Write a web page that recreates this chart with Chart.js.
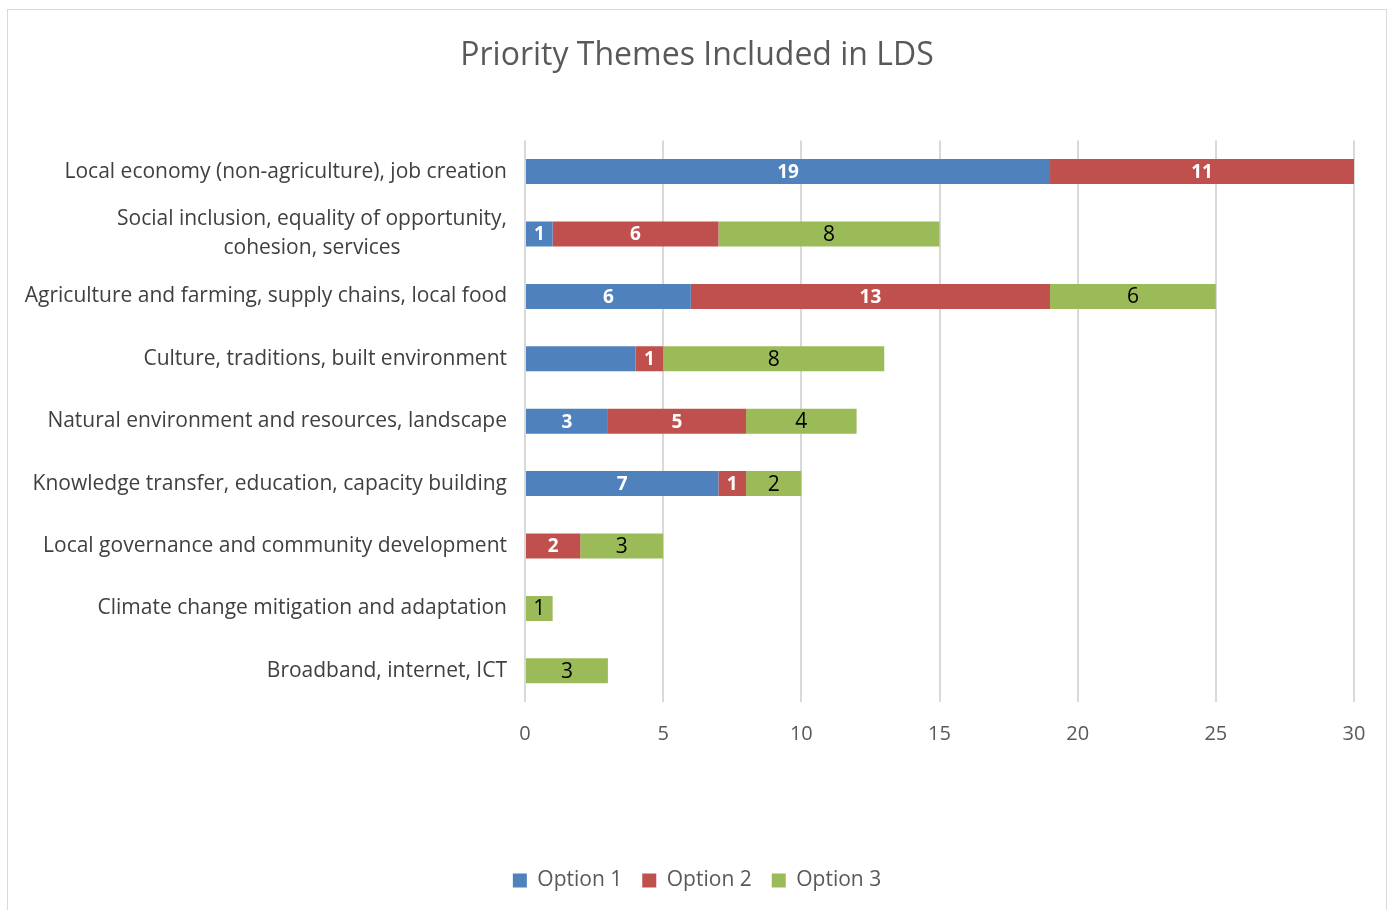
<!DOCTYPE html>
<html>
<head>
<meta charset="utf-8">
<title>Priority Themes Included in LDS</title>
<script src="https://cdn.jsdelivr.net/npm/chart.js@4"></script>
<style>
    html, body { margin: 0; padding: 0; background: #fff; overflow: hidden; }
    #frame { position: absolute; left: 7px; top: 9px; width: 1378px; height: 930px; border: 1px solid #d9d9d9; }
    #box { position: relative; width: 1378px; height: 891px; }
</style>
</head>
<body>
<div id="frame"><div id="box"><canvas id="chart"></canvas></div></div>
<script>
/* ── Data ───────────────────────────────────────────────────── */

const categories = [
    ['Local economy (non-agriculture), job creation'],
    ['Social inclusion, equality of opportunity,', 'cohesion, services'],
    ['Agriculture and farming, supply chains, local food'],
    ['Culture, traditions, built environment'],
    ['Natural environment and resources, landscape'],
    ['Knowledge transfer, education, capacity building'],
    ['Local governance and community development'],
    ['Climate change mitigation and adaptation'],
    ['Broadband, internet, ICT'],
];
const seriesNames = ['Option 1', 'Option 2', 'Option 3'];
const option1 = [19, 1, 6, 4, 3, 7, 0, 0, 0];
const option2 = [11, 6, 13, 1, 5, 1, 2, 0, 0];
const option3 = [0, 8, 6, 8, 4, 2, 3, 1, 3];
const xTicks = [0, 5, 10, 15, 20, 25, 30];
// segments whose value is not printed in the original (dataset index -> bar indexes)
const hiddenLabels = { 0: [3] };

const FONT = '"Open Sans", "Noto Sans", sans-serif';

/* ── Plugins ────────────────────────────────────────────────── */

// category labels: block right-aligned to the axis, lines centred within it
const categoryLabels = {
    id: 'categoryLabels',
    afterDraw(chart) {
        const ctx = chart.ctx;
        const y = chart.scales.y;
        const right = chart.chartArea.left - 18;
        ctx.save();
        ctx.font = '21px ' + FONT;
        ctx.fillStyle = '#404040';
        ctx.textAlign = 'center';
        ctx.textBaseline = 'middle';
        categories.forEach((lines, i) => {
            const cy = y.getPixelForTick(i);
            const w = Math.max(...lines.map(l => ctx.measureText(l).width));
            lines.forEach((l, j) => {
                ctx.fillText(l, right - w / 2, cy + (j - (lines.length - 1) / 2) * 29);
            });
        });
        ctx.restore();
    }
};

const valueLabels = {
    id: 'valueLabels',
    afterDatasetsDraw(chart) {
        const ctx = chart.ctx;
        ctx.save();
        ctx.textAlign = 'center';
        ctx.textBaseline = 'middle';
        chart.data.datasets.forEach((ds, di) => {
            const meta = chart.getDatasetMeta(di);
            meta.data.forEach((bar, i) => {
                const v = ds.data[i];
                if (!v || (hiddenLabels[di] || []).includes(i)) return;
                ctx.font = ds.valueFont;
                ctx.fillStyle = ds.valueColor;
                ctx.fillText(String(v), (bar.x + bar.base) / 2, bar.y + 1);
            });
        });
        ctx.restore();
    }
};

/* ── Chart ──────────────────────────────────────────────────── */

new Chart(document.getElementById('chart'), {
    type: 'bar',
    data: {
        labels: categories.map(c => c.join(' ')),
        datasets: [
            { label: seriesNames[0], data: option1, backgroundColor: '#4f81bd',
              valueFont: 'bold 19px ' + FONT, valueColor: '#fff' },
            { label: seriesNames[1], data: option2, backgroundColor: '#c0504d',
              valueFont: 'bold 19px ' + FONT, valueColor: '#fff' },
            { label: seriesNames[2], data: option3, backgroundColor: '#9bbb59',
              valueFont: '21px ' + FONT, valueColor: '#000' },
        ]
    },
    options: {
        indexAxis: 'y',
        responsive: true,
        maintainAspectRatio: false,
        animation: false,
        datasets: { bar: { categoryPercentage: 1, barPercentage: 0.4 } },
        layout: { padding: 0 },
        plugins: {
            title: {
                display: true,
                text: 'Priority Themes Included in LDS',
                color: '#595959',
                font: { family: FONT, size: 32, weight: 'normal', lineHeight: 1.2 },
                padding: { top: 27, bottom: 65 }
            },
            legend: {
                position: 'bottom',
                labels: {
                    color: '#595959',
                    font: { family: FONT, size: 21 },
                    boxWidth: 14,
                    boxHeight: 14,
                    padding: 20
                }
            },
            tooltip: { enabled: false }
        },
        scales: {
            x: {
                stacked: true,
                min: xTicks[0],
                max: xTicks[xTicks.length - 1],
                afterBuildTicks: scale => { scale.ticks = xTicks.map(v => ({ value: v })); },
                afterFit: scale => { scale.height = 148; scale.paddingRight = 32; },
                grid: { color: '#d9d9d9', lineWidth: 2, drawTicks: false },
                border: { display: false },
                ticks: { color: '#595959', font: { family: FONT, size: 20 }, padding: 20 }
            },
            y: {
                stacked: true,
                afterFit: scale => { scale.width = 517; },
                grid: { display: false },
                border: { display: false },
                ticks: { display: false }
            }
        }
    },
    plugins: [categoryLabels, valueLabels]
});
</script>
</body>
</html>
